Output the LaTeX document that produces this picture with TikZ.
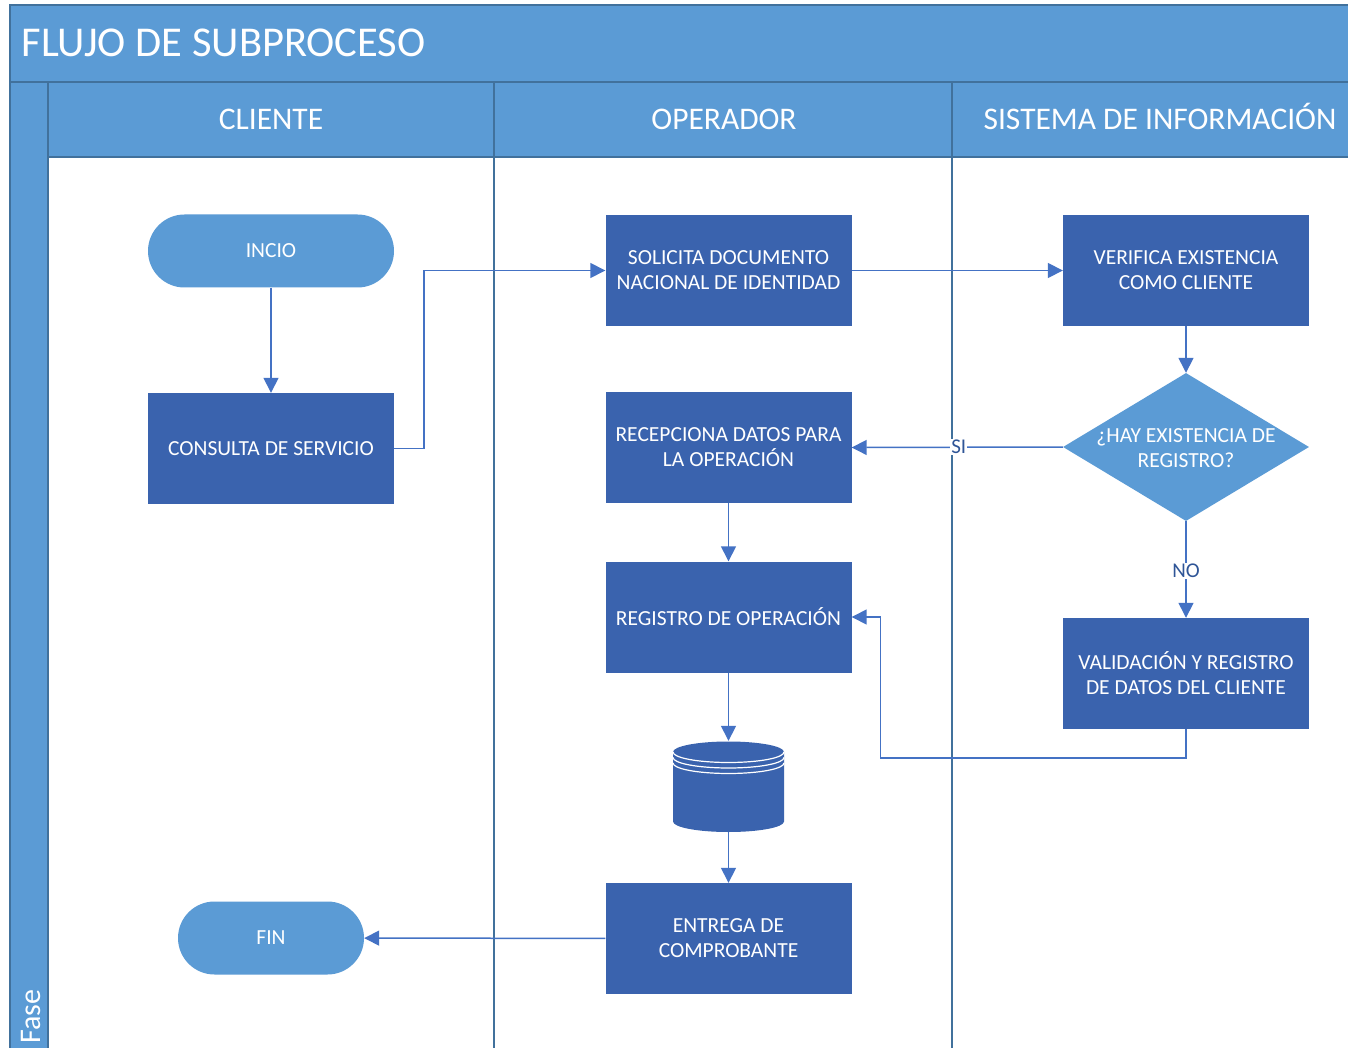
\documentclass[tikz,border=0pt]{standalone}
\usepackage{fontspec}
\setmainfont{Carlito}
\usetikzlibrary{shapes.geometric,arrows.meta}

\definecolor{bandblue}{HTML}{5B9BD5}
\definecolor{edgeblue}{HTML}{41719C}
\definecolor{boxblue}{HTML}{3A63AE}
\definecolor{linkblue}{HTML}{4472C4}
\definecolor{labelblue}{HTML}{2F5597}

\tikzset{
  process/.style={rectangle, fill=boxblue, text=white, minimum width=246pt,
    minimum height=111pt, align=center, inner sep=0pt,
    font=\fontsize{21.5}{25}\selectfont},
  terminal/.style={rectangle, rounded corners=36.5pt, fill=bandblue, text=white,
    minimum height=73pt, inner sep=0pt, font=\fontsize{21.5}{25}\selectfont},
  decision/.style={diamond, fill=bandblue, minimum width=246pt,
    minimum height=148pt, inner sep=0pt},
  lanehead/.style={text=white, anchor=base, font=\fontsize{31.5}{36}\selectfont},
  flow/.style={draw=linkblue, line width=1.5pt,
    -{Triangle[length=15pt,width=15pt]}},
  cond/.style={fill=white, text=labelblue, inner sep=1pt,
    font=\fontsize{21}{24}\selectfont},
  lane/.style={draw=edgeblue, line width=1.5pt},
  rim/.style={white, line width=1.2pt}
}

\begin{document}
\begin{tikzpicture}[x=1pt,y=-1pt]
  \useasboundingbox (0,0) rectangle (1348,1048);
  \fill[white] (0,0) rectangle (1348,1048);

  % pool frame, title band, phase column and lane headers
  \fill[bandblue] (10,5) rectangle (1360,82);
  \fill[bandblue] (10,82) rectangle (48,1060);
  \fill[bandblue] (48,82) rectangle (1360,157);
  \draw[lane] (10,1060) -- (10,5) -- (1360,5);
  \draw[lane] (10,82) -- (1360,82);
  \draw[lane] (48,1060) -- (48,157) -- (1360,157);
  \draw[lane] (48,82) -- (48,157);
  \draw[lane] (494,82) -- (494,1060);
  \draw[lane] (952,82) -- (952,1060);

  \node[anchor=base west, text=white, font=\fontsize{42.5}{46}\selectfont]
    (title) at (18,57) {FLUJO DE SUBPROCESO};
  \node[anchor=base west, rotate=90, text=white, font=\fontsize{30}{33}\selectfont]
    (fase) at (40,1047) {Fase};
  \node[lanehead] (hcli) at (271,130) {CLIENTE};
  \node[lanehead] (hope) at (724,130) {OPERADOR};
  \node[lanehead] (hsis) at (1160,130) {SISTEMA DE INFORMACIÓN};

  % flow steps
  \node[terminal, minimum width=246pt] (inicio) at (271,251) {INCIO};
  \node[process] (consulta) at (271,448.5) {CONSULTA DE SERVICIO};
  \node[process] (solicita) at (728.5,270.5) {SOLICITA DOCUMENTO\\NACIONAL DE IDENTIDAD};
  \node[process] (verifica) at (1186,270.5) {VERIFICA EXISTENCIA\\COMO CLIENTE};
  \node[decision] (existe) at (1186,447) {};
  \node[text=white, align=center, font=\fontsize{21.5}{25}\selectfont]
    (existetxt) at (1186,448) {¿HAY EXISTENCIA DE\\REGISTRO?};
  \node[process] (recepciona) at (728.5,447.5) {RECEPCIONA DATOS PARA\\LA OPERACIÓN};
  \node[process] (registro) at (728.5,617) {REGISTRO DE OPERACIÓN};
  \node[process] (valida) at (1186,673.5) {VALIDACIÓN Y REGISTRO\\DE DATOS DEL CLIENTE};
  \node[process] (entrega) at (728.5,938.5) {ENTREGA DE\\COMPROBANTE};
  \node[terminal, minimum width=186pt] (fin) at (271,938) {FIN};

  % data store: cylinder with three rim lines under the lid
  \node[minimum width=111pt, minimum height=91pt, inner sep=0pt] (db) at (728.5,786.5) {};
  \fill[boxblue] (673,752) -- (673,821.5) arc[start angle=180, end angle=360,
    x radius=55.5pt, y radius=10.5pt] -- (784,752)
    arc[start angle=0, end angle=180, x radius=55.5pt, y radius=10.5pt] -- cycle;
  \draw[rim] (673,752) arc[start angle=180, end angle=360,
    x radius=55.5pt, y radius=10.5pt];
  \draw[rim] (673,757.5) arc[start angle=180, end angle=360,
    x radius=55.5pt, y radius=10.5pt];
  \draw[rim] (673,763) arc[start angle=180, end angle=360,
    x radius=55.5pt, y radius=10.5pt];

  % connectors
  \draw[flow] (inicio) -- (consulta);
  \draw[flow] (consulta.east) -- ++(30,0) |- (solicita.west);
  \draw[flow] (solicita) -- (verifica);
  \draw[flow] (verifica) -- (existe);
  \draw[flow] (existe.west) -- node[cond, pos=0.5, xshift=1.5pt] (si) {SI} (recepciona.east);
  \draw[flow] (existe.south) -- node[cond, pos=0.5, yshift=-1.5pt] (no) {NO} (valida.north);
  \draw[flow] (recepciona) -- (registro);
  \draw[flow] (valida.south) -- ++(0,29) -| ([xshift=29pt]registro.east) -- (registro.east);
  \draw[flow] (registro) -- (db.north);
  \draw[flow] (db.south) -- (entrega);
  \draw[flow] (entrega) -- (fin);
\end{tikzpicture}
\end{document}
